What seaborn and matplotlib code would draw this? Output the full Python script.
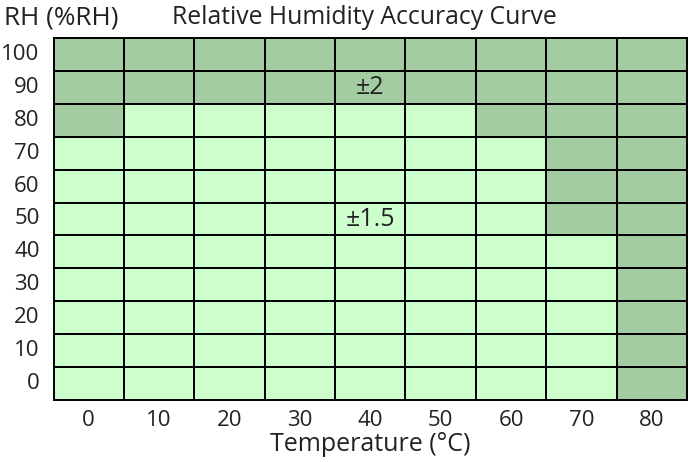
import matplotlib
matplotlib.use("Agg")
import matplotlib.pyplot as plt
import seaborn as sns
import numpy as np
from matplotlib.colors import ListedColormap

# temperature columns and humidity rows (top row first)
temps = [0, 10, 20, 30, 40, 50, 60, 70, 80]
rh_levels = [100, 90, 80, 70, 60, 50, 40, 30, 20, 10, 0]

# 1 = ±2 zone (dark), 0 = ±1.5 zone (light)
zone = [
    [1, 1, 1, 1, 1, 1, 1, 1, 1],
    [1, 1, 1, 1, 1, 1, 1, 1, 1],
    [1, 0, 0, 0, 0, 0, 1, 1, 1],
    [0, 0, 0, 0, 0, 0, 0, 1, 1],
    [0, 0, 0, 0, 0, 0, 0, 1, 1],
    [0, 0, 0, 0, 0, 0, 0, 1, 1],
    [0, 0, 0, 0, 0, 0, 0, 0, 1],
    [0, 0, 0, 0, 0, 0, 0, 0, 1],
    [0, 0, 0, 0, 0, 0, 0, 0, 1],
    [0, 0, 0, 0, 0, 0, 0, 0, 1],
    [0, 0, 0, 0, 0, 0, 0, 0, 1],
]

labels = [["" for _ in temps] for _ in rh_levels]
labels[1][4] = "±2"
labels[5][4] = "±1.5"

plt.rcParams["font.family"] = ["Open Sans", "DejaVu Sans"]
ink = "#222222"

fig = plt.figure(figsize=(6.9, 4.62), dpi=100)
ax = fig.add_axes([53.5 / 690, 1 - 400 / 462, (687 - 53.5) / 690, (400 - 38) / 462])

sns.heatmap(np.array(zone), ax=ax, cmap=ListedColormap(["#ccffcc", "#a3cca3"]),
            cbar=False, linewidths=1.1, linecolor="black",
            annot=np.array(labels), fmt="",
            annot_kws={"fontsize": 18, "color": ink},
            xticklabels=temps, yticklabels=rh_levels)

for s in ax.spines.values():
    s.set_visible(True)
    s.set_linewidth(1.4)
    s.set_color("black")

ax.tick_params(length=0, labelsize=16, colors=ink)
plt.setp(ax.get_yticklabels(), rotation=0)
plt.setp(ax.get_xticklabels(), rotation=0)
ax.tick_params(axis="x", pad=7)
ax.tick_params(axis="y", pad=10)
ax.set_xlabel("Temperature (°C)", fontsize=18, color=ink, labelpad=1)
ax.set_ylabel("")

fig.text(4 / 690, 1 - 18 / 462, "RH (%RH)", fontsize=18.8, color=ink,
         ha="left", va="center")
fig.text(364 / 690, 1 - 18 / 462, "Relative Humidity Accuracy Curve", fontsize=17.8,
         color=ink, ha="center", va="center")

fig.savefig("out.png", dpi=100)
